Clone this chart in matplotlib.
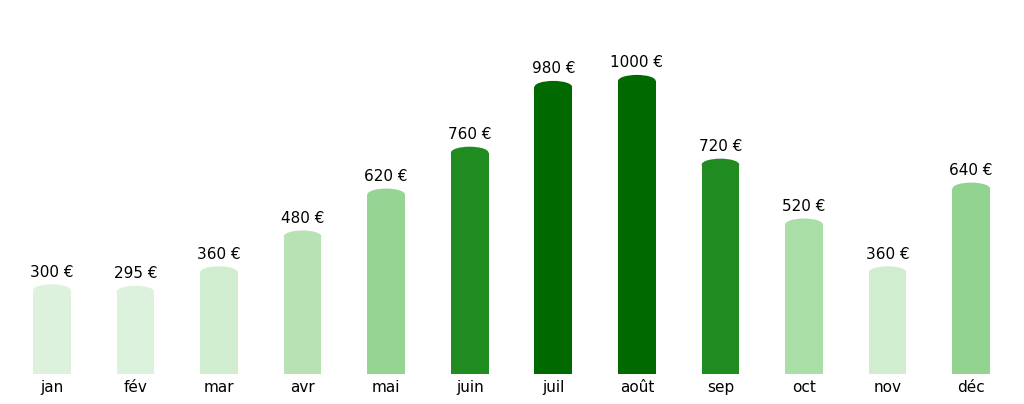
import matplotlib.pyplot as plt
from matplotlib.patches import Ellipse

months = ['jan', 'fév', 'mar', 'avr', 'mai', 'juin', 'juil', 'août', 'sep', 'oct', 'nov', 'déc']
values = [300, 295, 360, 480, 620, 760, 980, 1000, 720, 520, 360, 640]
colors = ['#dcf2dc', '#dcf2dc', '#d0edd0', '#b7e3b4', '#96d493', '#208b20', '#006a00',
          '#006a00', '#208b20', '#aadea7', '#d0edd0', '#93d390']

fig = plt.figure(figsize=(10.24, 4.04), dpi=100)
ax = fig.add_axes([10 / 1024, 30 / 404, 1003 / 1024, 329 / 404])

width = 0.45
cap = 40  # rounded top height in data units
x = range(len(months))
for i, v, c in zip(x, values, colors):
    ax.bar(i, v - cap / 2, width=width, color=c)
    ax.add_patch(Ellipse((i, v - cap / 2), width, cap, color=c, lw=0))
    ax.text(i, v + 15, f'{v} €', ha='center', va='bottom', fontsize=11)

ax.set_xlim(-0.5, 11.5)
ax.set_ylim(0, 1100)
ax.set_xticks(list(x))
ax.set_xticklabels(months, fontsize=11)
ax.tick_params(length=0, pad=4)
ax.set_yticks([])
for s in ax.spines.values():
    s.set_visible(False)

fig.savefig('out.png')
